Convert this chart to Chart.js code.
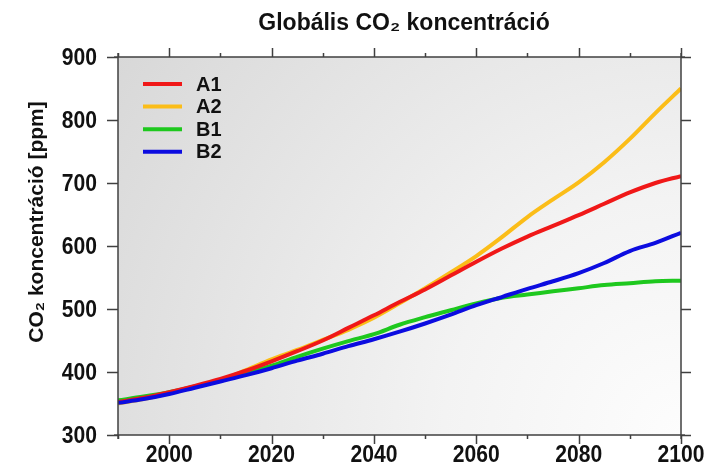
<!DOCTYPE html>
<html>
<head>
<meta charset="utf-8">
<script src="https://cdn.jsdelivr.net/npm/chart.js@4.4.1/dist/chart.umd.min.js"></script>
<style>
  html, body { margin: 0; padding: 0; background: #ffffff; }
  #wrap { width: 704px; height: 471px; }
</style>
</head>
<body>
<div id="wrap"><canvas id="c" width="704" height="471"></canvas></div>
<script>
// Years of the SRES scenario projections (5-year steps)
const years = [1990, 1995, 2000, 2005, 2010, 2015, 2020, 2025, 2030, 2035, 2040, 2045,
               2050, 2055, 2060, 2065, 2070, 2075, 2080, 2085, 2090, 2095, 2100];

// CO2 concentration [ppm] per scenario
const a1 = [352, 359, 368, 378, 389, 402, 417, 433, 450, 470, 490, 511,
            531, 553, 575, 596, 615, 632, 649, 667, 685, 700, 711];
const a2 = [350, 357, 366, 376, 387, 403, 420, 435, 451, 467, 486, 509,
            533, 558, 584, 614, 646, 674, 701, 733, 770, 811, 850];
const b1 = [355, 361, 368, 377, 386, 398, 410, 424, 437, 449, 460, 475,
            487, 498, 509, 518, 523, 528, 533, 538, 541, 544, 545];
const b2 = [351, 357, 365, 375, 385, 395, 406, 418, 429, 441, 452, 464,
            477, 491, 506, 519, 532, 544, 557, 573, 592, 605, 621];

const seriesNames = ['A1', 'A2', 'B1', 'B2'];
const seriesColors = ['#f01818', '#fbbd18', '#1ec81e', '#0c0ce0'];

// Axis ticks
const yTickValues = [300, 400, 500, 600, 700, 800, 900];
const xTickYears = [1990, 2000, 2010, 2020, 2030, 2040, 2050, 2060, 2070, 2080, 2090, 2100];
const xLabelYears = [2000, 2020, 2040, 2060, 2080, 2100];

const titleText = 'Globális CO\u2082 koncentráció';
const yTitleText = 'CO\u2082 koncentráció [ppm]';

const toPoints = vals => years.map((y, i) => ({ x: y, y: vals[i] }));
const seriesValues = [a1, a2, b1, b2];
// B2 drawn on top, then A1, B1, A2 underneath
const drawOrder = [1, 3, 2, 0];

const datasets = seriesNames.map((name, i) => ({
  label: name,
  data: toPoints(seriesValues[i]),
  borderColor: seriesColors[i],
  backgroundColor: seriesColors[i],
  borderWidth: 4,
  pointRadius: 0,
  cubicInterpolationMode: 'monotone',
  fill: false,
  order: drawOrder[i]
}));

const boldFont = "'Liberation Sans', Arial, sans-serif";
const tickFont = 'bold 24px ' + boldFont;
const tickSqueeze = 0.88; // condensed look for the axis numbers

function squeezedText(ctx, text, x, y, align, baseline) {
  ctx.save();
  ctx.translate(x, y);
  ctx.scale(tickSqueeze, 1);
  ctx.textAlign = align;
  ctx.textBaseline = baseline;
  ctx.fillText(text, 0, 0);
  ctx.restore();
}

const decor = {
  id: 'decor',
  beforeDatasetsDraw(chart) {
    const { ctx, chartArea: a } = chart;
    const g = ctx.createRadialGradient(a.right, a.bottom, 0, a.right, a.bottom, Math.hypot(a.width, a.height));
    g.addColorStop(0, '#fdfdfd');
    g.addColorStop(0.35, '#f3f3f3');
    g.addColorStop(1, '#d8d8d8');
    ctx.save();
    ctx.fillStyle = g;
    ctx.fillRect(a.left, a.top, a.width, a.height);
    ctx.restore();
  },
  afterDraw(chart) {
    const { ctx, chartArea: a, scales } = chart;
    const xs = scales.x, ys = scales.y;
    ctx.save();
    ctx.strokeStyle = '#404040';
    ctx.lineWidth = 1.5;
    ctx.lineCap = 'butt';
    const ext = 4;
    ctx.beginPath();
    // frame
    ctx.moveTo(a.left - ext, a.top); ctx.lineTo(a.right + ext, a.top);
    ctx.moveTo(a.left - ext, a.bottom); ctx.lineTo(a.right + ext, a.bottom);
    ctx.moveTo(a.left, a.top - ext); ctx.lineTo(a.left, a.bottom + ext);
    ctx.moveTo(a.right, a.top - ext); ctx.lineTo(a.right, a.bottom + ext);
    // y ticks, left and right
    yTickValues.forEach(v => {
      const py = Math.round(ys.getPixelForValue(v)) + 0.5;
      ctx.moveTo(a.left - 11, py); ctx.lineTo(a.left, py);
      ctx.moveTo(a.right, py); ctx.lineTo(a.right + 10, py);
    });
    // x ticks, top and bottom (long at labelled years)
    xTickYears.forEach(yr => {
      const px = Math.round(xs.getPixelForValue(yr)) + 0.5;
      const len = xLabelYears.includes(yr) ? 9 : 4;
      ctx.moveTo(px, a.top); ctx.lineTo(px, a.top - len);
      ctx.moveTo(px, a.bottom); ctx.lineTo(px, a.bottom + len);
    });
    ctx.stroke();

    // axis numbers
    ctx.fillStyle = '#111';
    ctx.font = tickFont;
    yTickValues.forEach(v => {
      squeezedText(ctx, String(v), a.left - 21, ys.getPixelForValue(v) + 1, 'right', 'middle');
    });
    xLabelYears.forEach(yr => {
      squeezedText(ctx, String(yr), xs.getPixelForValue(yr), a.bottom + 27, 'center', 'alphabetic');
    });

    // legend
    const lx = a.left + 25, ly = a.top + 27, step = 22.6;
    chart.data.datasets.forEach((ds, i) => {
      const yy = ly + i * step;
      ctx.strokeStyle = ds.borderColor;
      ctx.lineWidth = 4;
      ctx.beginPath();
      ctx.moveTo(lx, yy); ctx.lineTo(lx + 39, yy);
      ctx.stroke();
      ctx.fillStyle = '#111';
      ctx.font = 'bold 20px ' + boldFont;
      ctx.textAlign = 'left';
      ctx.textBaseline = 'middle';
      ctx.fillText(ds.label, lx + 53, yy + 1);
    });

    // chart title
    ctx.fillStyle = '#111';
    ctx.font = 'bold 23px ' + boldFont;
    ctx.textAlign = 'center';
    ctx.textBaseline = 'middle';
    ctx.fillText(titleText, 404, 24);

    // y axis title
    ctx.save();
    ctx.translate(37, 222);
    ctx.rotate(-Math.PI / 2);
    ctx.font = 'bold 21px ' + boldFont;
    ctx.fillText(yTitleText, 0, 0);
    ctx.restore();

    ctx.restore();
  }
};

new Chart(document.getElementById('c'), {
  type: 'line',
  data: { datasets },
  options: {
    responsive: false,
    devicePixelRatio: 1,
    animation: false,
    events: [],
    layout: { padding: { left: 0, right: 23, top: 57, bottom: 0 } },
    plugins: {
      legend: { display: false },
      title: { display: false },
      tooltip: { enabled: false }
    },
    scales: {
      x: {
        type: 'linear',
        min: 1990,
        max: 2100,
        afterFit: s => { s.height = 36; },
        grid: { display: false, drawTicks: false },
        border: { display: false },
        afterBuildTicks: s => { s.ticks = xTickYears.map(v => ({ value: v })); },
        ticks: { display: false }
      },
      y: {
        min: 300,
        max: 900,
        afterFit: s => { s.width = 118; },
        grid: { display: false, drawTicks: false },
        border: { display: false },
        afterBuildTicks: s => { s.ticks = yTickValues.map(v => ({ value: v })); },
        ticks: { display: false }
      }
    }
  },
  plugins: [decor]
});
</script>
</body>
</html>
